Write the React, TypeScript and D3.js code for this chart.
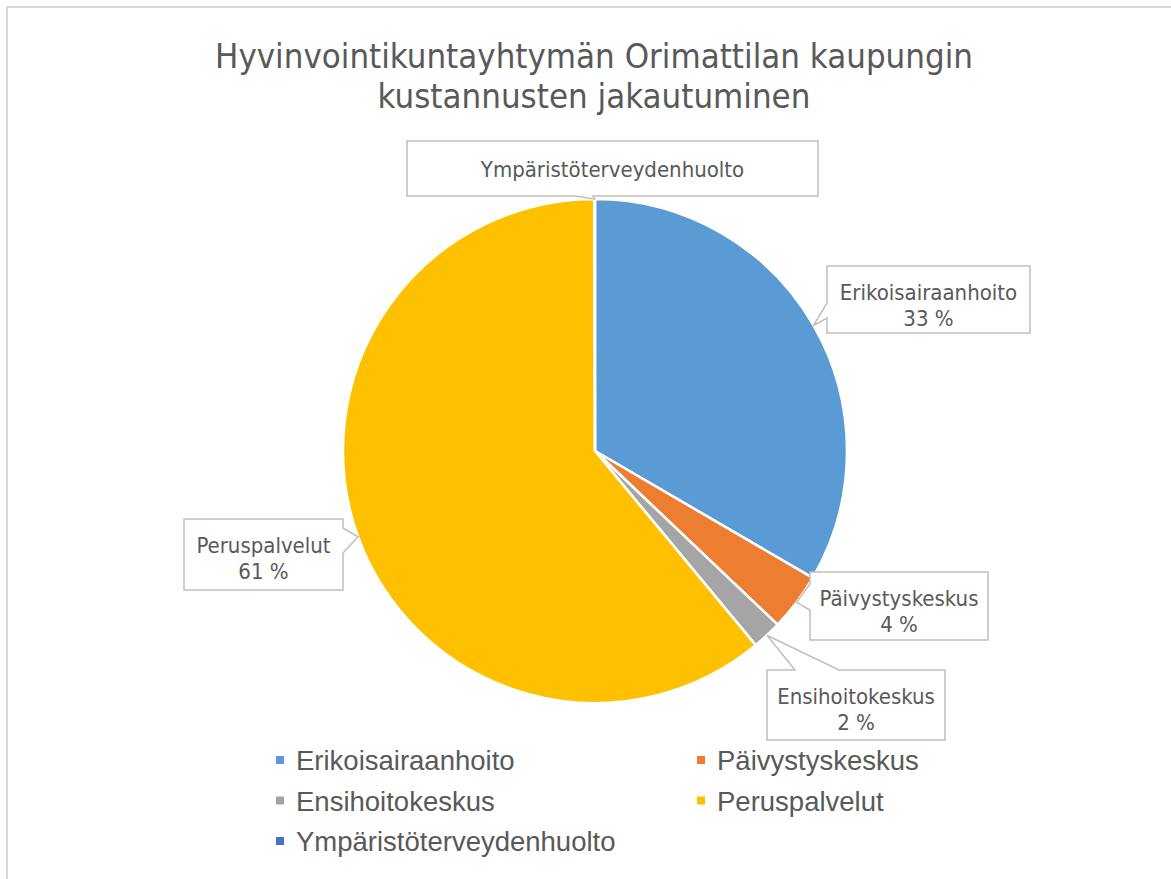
import React from 'react';
import * as d3 from 'd3';

const categories = ['Erikoisairaanhoito', 'Päivystyskeskus', 'Ensihoitokeskus', 'Peruspalvelut', 'Ympäristöterveydenhuolto'];
const shares = [33.4, 3.7, 1.9, 60.95, 0.05];
const percentLabels = ['33 %', '4 %', '2 %', '61 %', ''];
const colors = ['#5B9BD5', '#ED7D31', '#A5A5A5', '#FFC000', '#4472C4'];
const titleLines = ['Hyvinvointikuntayhtymän Orimattilan kaupungin', 'kustannusten jakautuminen'];

const width = 1171;
const height = 879;
const cx = 595;
const cy = 451;
const radius = 252;

// callout boxes: x, y, w, h, side of the tail and where the tail leaves that side
const boxes = [
  { x: 827, y: 266, w: 203, h: 67, side: 'left', a: 37, b: 52 },
  { x: 810, y: 572, w: 178, h: 68, side: 'left', a: 12, b: 38 },
  { x: 767, y: 670, w: 178, h: 70, side: 'top', a: 28, b: 72 },
  { x: 184, y: 519, w: 159, h: 71, side: 'right', a: 9, b: 34 },
  { x: 407, y: 141, w: 411, h: 55, side: 'bottom', a: 168, b: 186 },
];

const calloutPath = (b, tip) => {
  const { x, y, w, h, side, a } = b;
  const e = b.b;
  let p = `M${x},${y}`;
  if (side === 'top') p += `L${x + a},${y}L${tip[0]},${tip[1]}L${x + e},${y}`;
  p += `L${x + w},${y}`;
  if (side === 'right') p += `L${x + w},${y + a}L${tip[0]},${tip[1]}L${x + w},${y + e}`;
  p += `L${x + w},${y + h}`;
  if (side === 'bottom') p += `L${x + e},${y + h}L${tip[0]},${tip[1]}L${x + a},${y + h}`;
  p += `L${x},${y + h}`;
  if (side === 'left') p += `L${x},${y + e}L${tip[0]},${tip[1]}L${x},${y + a}`;
  return p + 'Z';
};

export default function App() {
  const pie = d3.pie<number>().sort(null).value(d => d)(shares);
  const arc = d3.arc<d3.PieArcDatum<number>>().innerRadius(0).outerRadius(radius);
  const edge = d3.arc<d3.PieArcDatum<number>>().innerRadius(radius).outerRadius(radius);

  const calloutFont = "'Liberation Sans Narrow', 'DejaVu Sans Condensed', sans-serif";

  return (
    <svg width={width} height={height} style={{ position: 'absolute', left: 0, top: 0 }}>
      <rect x={0} y={0} width={width} height={height} fill="#fff" />
      <rect x={7} y={7} width={width + 50} height={height + 50} fill="#fff" stroke="#D9D9D9" strokeWidth={2} />

      <g fontFamily={calloutFont} fill="#595959" textAnchor="middle" fontSize={34.5}>
        {titleLines.map((t, i) => (
          <text key={i} x={594} y={68 + i * 40}>{t}</text>
        ))}
      </g>

      <g transform={`translate(${cx},${cy})`}>
        {pie.map((d, i) => (
          <path key={i} d={arc(d) || ''} fill={colors[i]} stroke="#fff" strokeWidth={2.5} strokeLinejoin="round" />
        ))}
      </g>

      {pie.map((d, i) => {
        const b = boxes[i];
        const c = edge.centroid(d);
        const tip: [number, number] = [cx + c[0], cy + c[1]];
        const twoLines = percentLabels[i] !== '';
        return (
          <g key={i}>
            <path d={calloutPath(b, tip)} fill="#fff" stroke="#BFBFBF" strokeWidth={1.5} />
            <text
              x={b.x + b.w / 2}
              y={twoLines ? b.y + 34 : b.y + 36}
              textAnchor="middle"
              fontFamily={calloutFont}
              fontSize={22}
              fill="#595959"
            >
              {categories[i]}
            </text>
            {twoLines && (
              <text x={b.x + b.w / 2} y={b.y + 60} textAnchor="middle" fontFamily={calloutFont} fontSize={22} fill="#595959">
                {percentLabels[i]}
              </text>
            )}
          </g>
        );
      })}

      <g fontFamily="'Liberation Sans', Arial, sans-serif" fontSize={27.5} fill="#595959">
        {categories.map((c, i) => {
          const col = i % 2;
          const row = Math.floor(i / 2);
          const x = col === 0 ? 276 : 697;
          const y = 760 + row * 40.5;
          return (
            <g key={c}>
              <rect x={x} y={y - 4} width={8} height={8} fill={colors[i]} />
              <text x={x + 20} y={y + 10}>{c}</text>
            </g>
          );
        })}
      </g>
    </svg>
  );
}
